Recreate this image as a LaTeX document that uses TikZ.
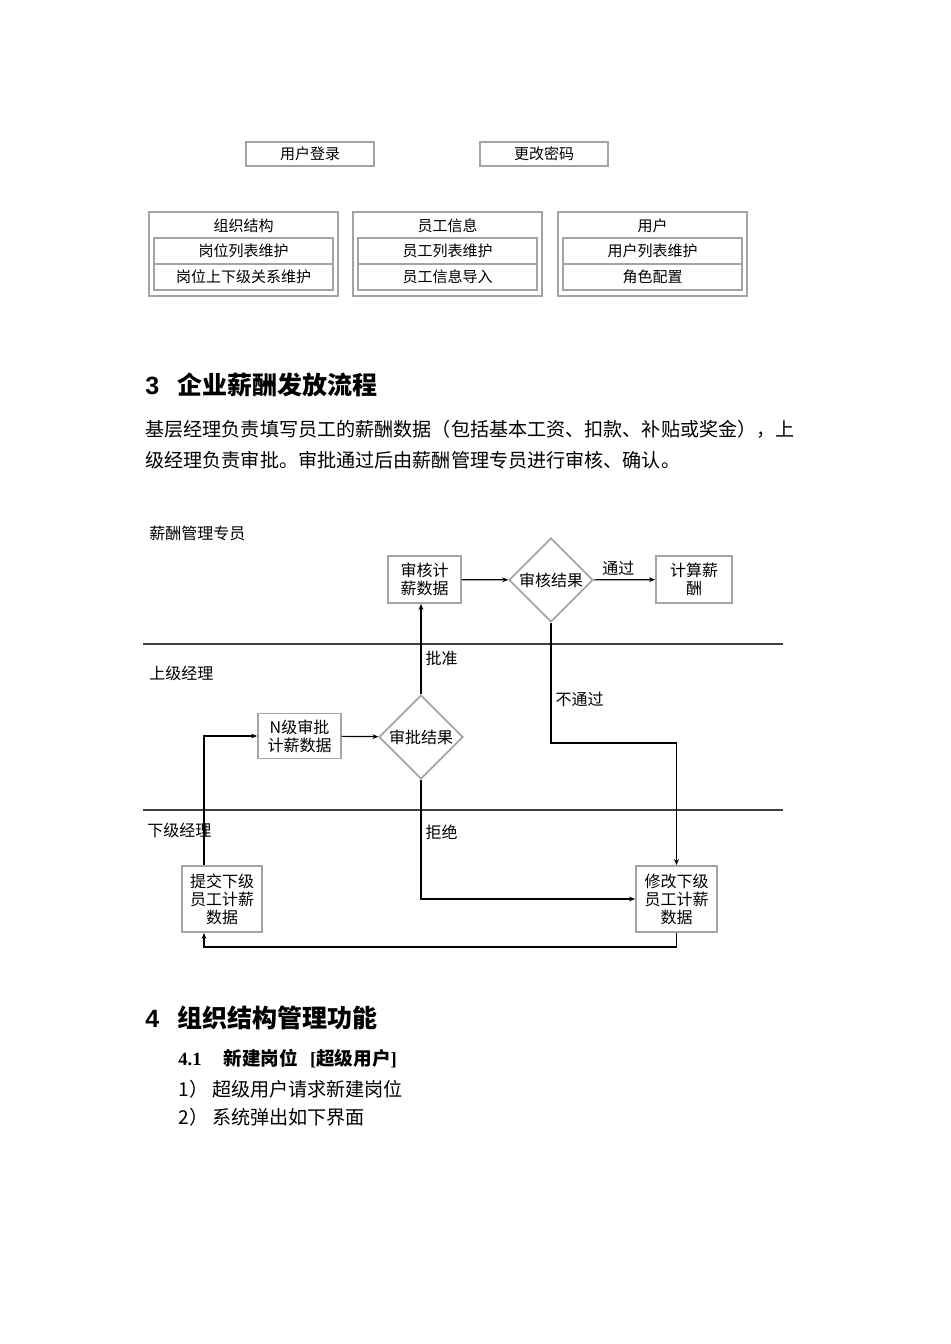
\documentclass[tikz,border=0pt]{standalone}
\usepackage{fontspec}
\setmainfont{Liberation Serif}
\newfontfamily\cjk{Noto Sans CJK SC}
\newfontfamily\arialfont{Liberation Sans}
\usetikzlibrary{shapes.geometric,arrows.meta,positioning}
\definecolor{edgegray}{HTML}{A4A4A4}
\definecolor{lanegray}{HTML}{404040}

\begin{document}
\begin{tikzpicture}[x=0.5pt, y=-0.5pt,
    topbox/.style={draw=edgegray, line width=0.7pt, minimum width=64pt, minimum height=12pt, inner sep=0pt, font=\cjk\fontsize{7.5}{9}\selectfont},
    grpbox/.style={draw=edgegray, line width=0.7pt, minimum width=94.5pt, minimum height=42pt, inner sep=0pt},
    rowbox/.style={draw=edgegray, line width=0.7pt, minimum width=89.5pt, minimum height=13pt, inner sep=0pt, font=\cjk\fontsize{7.5}{9}\selectfont},
    grptitle/.style={inner sep=0pt, font=\cjk\fontsize{7.5}{9}\selectfont},
    bodytext/.style={anchor=west, inner sep=0pt, font=\cjk\fontsize{9.55}{12}\selectfont},
    lanelabel/.style={anchor=west, inner sep=0pt, font=\cjk\fontsize{8}{9}\selectfont},
    procbox/.style={draw=edgegray, line width=0.9pt, align=center, inner sep=0pt, font=\cjk\fontsize{8}{9}\selectfont},
    decision/.style={diamond, draw=edgegray, line width=0.9pt, aspect=1, minimum size=42pt, inner sep=0pt, font=\cjk\fontsize{8}{9}\selectfont},
    flow/.style={-{Stealth[length=3pt,width=2.4pt]}, line width=0.6pt},
    lane/.style={draw=lanegray, line width=0.9pt},
    flowlabel/.style={inner sep=2pt, font=\cjk\fontsize{8}{9}\selectfont}
]
    \useasboundingbox (0,0) rectangle (950,1344);

    % Top function boxes
    \node[topbox] (login) at (310,154) {用户登录};
    \node[topbox] (passwd) at (544,154) {更改密码};

    % Module groups
    \node[grpbox] (org) at (243.5,254) {};
    \node[grptitle] (orgtitle) at (243.5,226) {组织结构};
    \node[rowbox] (orglist) at (243.5,251) {岗位列表维护};
    \node[rowbox] (orgrel) at (243.5,277) {岗位上下级关系维护};

    \node[grpbox] (staff) at (447.5,254) {};
    \node[grptitle] (stafftitle) at (447.5,226) {员工信息};
    \node[rowbox] (stafflist) at (447.5,251) {员工列表维护};
    \node[rowbox] (staffimp) at (447.5,277) {员工信息导入};

    \node[grpbox] (user) at (652.5,254) {};
    \node[grptitle] (usertitle) at (652.5,226) {用户};
    \node[rowbox] (userlist) at (652.5,251) {用户列表维护};
    \node[rowbox] (role) at (652.5,277) {角色配置};

    % Section 3
    \node[anchor=west, inner sep=0pt] (sec3) at (145,385) {{\arialfont\bfseries\fontsize{12.5}{14}\selectfont 3}\hspace{9pt}{\cjk\bfseries\fontsize{12.5}{14}\selectfont 企业薪酬发放流程}};
    \node[bodytext] (para1) at (145,429) {基层经理负责填写员工的薪酬数据（包括基本工资、扣款、补贴或奖金），上};
    \node[bodytext] (para2) at (145,460) {级经理负责审批。审批通过后由薪酬管理专员进行审核、确认。};

    % Swim lanes
    \node[lanelabel] (lanehr) at (149,533) {薪酬管理专员};
    \node[lanelabel] (laneup) at (149,673) {上级经理};
    \node[lanelabel] (lanelow) at (147,830) {下级经理};
    \draw[lane] (143,644) -- (783,644);
    \draw[lane] (143,810) -- (783,810);

    % Flow nodes
    \node[procbox, minimum width=36.5pt, minimum height=23.5pt] (audit) at (424.5,579.5) {审核计\\薪数据};
    \node[decision] (auditres) at (551,580) {审核结果};
    \node[procbox, minimum width=38pt, minimum height=23.5pt] (calc) at (694,579.5) {计算薪\\酬};
    \node[procbox, minimum width=41.5pt, minimum height=22.5pt] (nlevel) at (299.5,736) {N级审批\\计薪数据};
    \node[decision] (apprres) at (421,737) {审批结果};
    \node[procbox, minimum width=40pt, minimum height=33pt] (submit) at (222,899) {提交下级\\员工计薪\\数据};
    \node[procbox, minimum width=40.5pt, minimum height=33pt] (modify) at (676.5,899) {修改下级\\员工计薪\\数据};
    \coordinate (failturn) at (551,743);

    % Connectors
    \draw[flow] (audit) -- (auditres);
    \draw[flow] (auditres) -- node[flowlabel, above, pos=0.4] {通过} (calc);
    \draw[flow] (apprres.north) -- node[flowlabel, right, pos=0.4] {批准} (apprres.north |- audit.south);
    \draw[flow] (auditres.south) -- node[flowlabel, right, pos=0.64] {不通过} (failturn) -| (modify.north);
    \draw[flow] (apprres.south) |- node[flowlabel, right, pos=0.22] {拒绝} (modify.west);
    \draw[flow] (nlevel) -- (apprres);
    \draw[flow] ([xshift=-9pt]submit.north) |- (nlevel.west);
    \draw[flow] (modify.south) -- ++(0,14) -| ([xshift=-9pt]submit.south);

    % Section 4
    \node[anchor=west, inner sep=0pt] (sec4) at (145,1018) {{\arialfont\bfseries\fontsize{12.5}{14}\selectfont 4}\hspace{9pt}{\cjk\bfseries\fontsize{12.5}{14}\selectfont 组织结构管理功能}};
    \node[anchor=west, inner sep=0pt, font=\fontsize{9.3}{11}\selectfont] (sec41) at (178,1059) {\textbf{4.1}\hspace{11pt}{\cjk\bfseries 新建岗位}\hspace{6pt}\textbf{[}{\cjk\bfseries 超级用户}\textbf{]}};
    \node[bodytext] (step1) at (178,1089) {1）\hspace{2pt}超级用户请求新建岗位};
    \node[bodytext] (step2) at (178,1117) {2）\hspace{2pt}系统弹出如下界面};
\end{tikzpicture}
\end{document}
